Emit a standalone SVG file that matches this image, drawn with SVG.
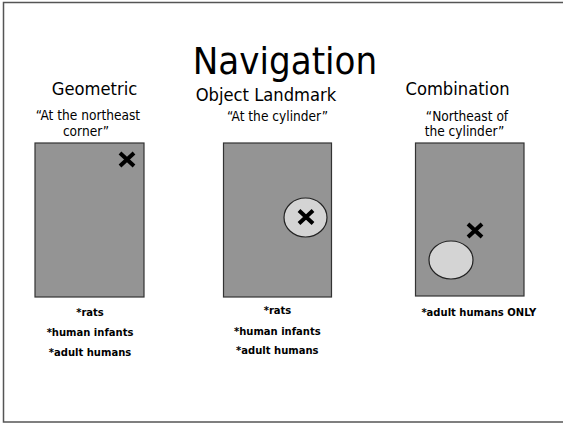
<svg xmlns="http://www.w3.org/2000/svg" width="563" height="424" viewBox="0 0 563 424">
  <style>
    .title { font-family: "DejaVu Sans Condensed", "DejaVu Sans", sans-serif; font-size: 38px; fill: #000; text-anchor: middle; }
    .head { font-family: "DejaVu Sans Condensed", "DejaVu Sans", sans-serif; font-size: 18.2px; fill: #000; text-anchor: middle; }
    .quote { font-family: "DejaVu Sans Condensed", "DejaVu Sans", sans-serif; font-size: 13.6px; fill: #000; text-anchor: middle; }
    .who { font-family: "DejaVu Sans", sans-serif; font-weight: bold; font-size: 10px; fill: #000; text-anchor: middle; }
    .room { fill: #949494; stroke: #333; stroke-width: 1.2; }
    .cyl { fill: #d4d4d4; stroke: #222; stroke-width: 1.2; }
    .mark { stroke: #000; stroke-width: 4; stroke-linecap: butt; fill: none; }
  </style>
  <defs>
    <path id="x" class="mark" d="M -7 -6.5 L 7 6.5 M 7 -6.5 L -7 6.5"/>
  </defs>

  <rect x="3.5" y="2.5" width="570" height="419.5" fill="#fff" stroke="#555" stroke-width="1.5"/>

  <text class="title" x="285" y="74">Navigation</text>

  <g id="geometric">
    <text class="head" x="94.5" y="95">Geometric</text>
    <text class="quote" x="88" y="120">“At the northeast</text>
    <text class="quote" x="86" y="135.5">corner”</text>
    <rect class="room" x="35" y="143" width="109" height="154"/>
    <use href="#x" x="127" y="159.5"/>
    <text class="who" x="90" y="316">*rats</text>
    <text class="who" x="90" y="336.3">*human infants</text>
    <text class="who" x="90" y="356">*adult humans</text>
  </g>

  <g id="object-landmark">
    <text class="head" x="266" y="100.5">Object Landmark</text>
    <text class="quote" x="277.5" y="121">“At the cylinder”</text>
    <rect class="room" x="223.5" y="143" width="108" height="154"/>
    <ellipse class="cyl" cx="305.5" cy="217.5" rx="21.5" ry="19.5"/>
    <use href="#x" x="306" y="217"/>
    <text class="who" x="277.5" y="313.6">*rats</text>
    <text class="who" x="277.3" y="334.6">*human infants</text>
    <text class="who" x="277.3" y="354.2">*adult humans</text>
  </g>

  <g id="combination">
    <text class="head" x="457.5" y="95">Combination</text>
    <text class="quote" x="467" y="120.5">“Northeast of</text>
    <text class="quote" x="464.5" y="136">the cylinder”</text>
    <rect class="room" x="415.5" y="143" width="108.5" height="153"/>
    <ellipse class="cyl" cx="451" cy="260" rx="22" ry="19"/>
    <use href="#x" x="475" y="230.5"/>
    <text class="who" x="478.8" y="316">*adult humans ONLY</text>
  </g>
</svg>
